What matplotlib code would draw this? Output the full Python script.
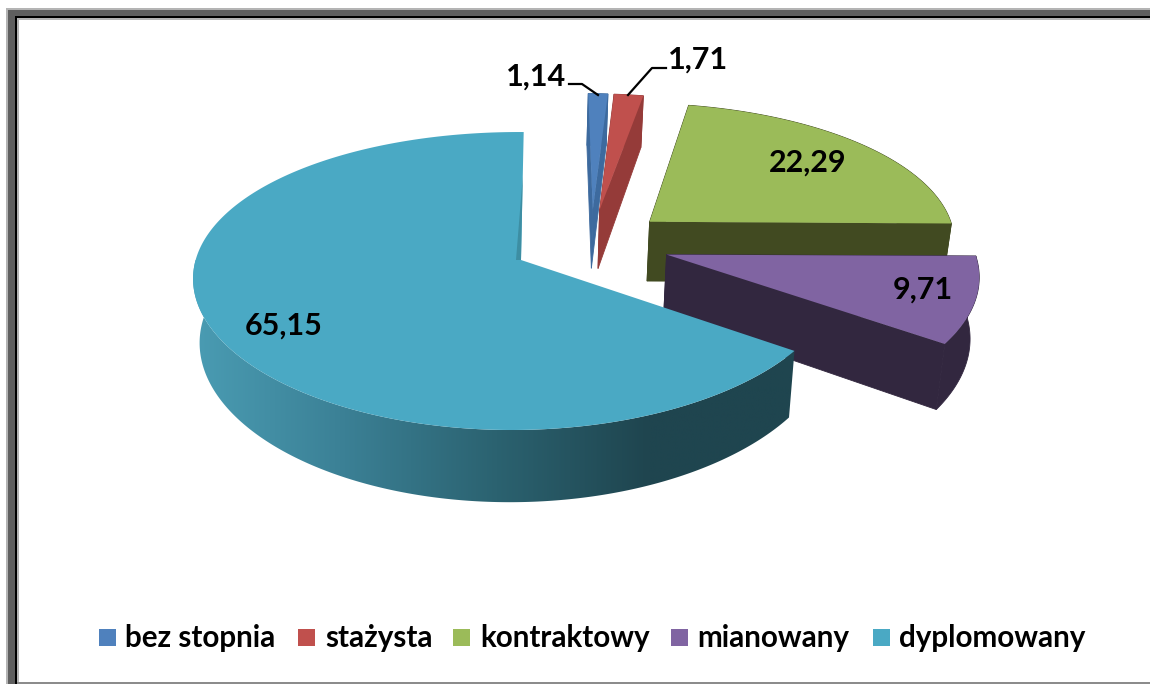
import numpy as np
import matplotlib
matplotlib.use('Agg')
import matplotlib.pyplot as plt
from matplotlib.patches import Polygon, Rectangle
from matplotlib.colors import LinearSegmentedColormap

plt.rcParams['font.family'] = ['Lato', 'DejaVu Sans']

categories = ['bez stopnia', 'stażysta', 'kontraktowy', 'mianowany', 'dyplomowany']
values = [1.14, 1.71, 22.29, 9.71, 65.15]
value_labels = ['1,14', '1,71', '22,29', '9,71', '65,15']

top_colors = ['#4F81BD', '#C0504D', '#9BBB59', '#8064A2', '#4AA9C4']
wall_colors = ['#3D6A9E', '#953B39', '#414A21', '#32273F', '#1F454F']

# camera of the fake 3d pie, pixels
ox, oy = 521, 260
rx, ry = 320, 146
shear = 3
k_yx, k_yy, k_x = 0.115, 0.141, 0.0165
depth = 62
explode = 0.25
label_pos = [(536, 77), (698, 60), (808, 163), (923, 290), (284, 326)]
legend_x = [99, 298, 453, 671, 873]
legend_text_x = [125, 325, 480, 697, 899]


def project(x, y, z=0.0):
    wx = 1 + k_yx*y + k_x*x
    wy = 1 + k_yy*y + k_x*x
    sx = (rx*x + shear*y)/wx * (1 - 0.02*z)
    sy = (-ry*y + z*depth)/wy
    return np.column_stack([ox + sx, oy + sy])


edges = np.radians(np.cumsum([0] + values)*3.6)
# the big slice apex is the origin, so the true centre is moved from it
big_mid = (edges[4] + edges[5])/2
cx, cy = -explode*np.sin(big_mid), -explode*np.cos(big_mid)

fig = plt.figure(figsize=(11.5, 6.84), dpi=100)
ax = fig.add_axes([0, 0, 1, 1])
ax.set_xlim(0, 1150)
ax.set_ylim(684, 0)
ax.axis('off')

# window frame
ax.add_patch(Rectangle((6, 8), 1144, 12, color='#B4B4B4', lw=0))
ax.add_patch(Rectangle((6, 8), 13, 676, color='#B4B4B4', lw=0))
ax.add_patch(Rectangle((8, 10), 1142, 6, color='#5F5F5F', lw=0))
ax.add_patch(Rectangle((8, 10), 7, 674, color='#5F5F5F', lw=0))
ax.add_patch(Rectangle((15, 16), 1135, 2, color='black', lw=0))
ax.add_patch(Rectangle((15, 16), 2, 668, color='black', lw=0))
ax.add_patch(Rectangle((17, 682), 1133, 2, color='#8C8C8C', lw=0))

wall_cmap = LinearSegmentedColormap.from_list('wall', ['#4A9CB3', '#3B8095', '#2B6270', '#1F454F', '#1F454F'])

for i in [2, 3, 0, 1, 4]:
    a0, a1 = edges[i], edges[i+1]
    mid = (a0 + a1)/2
    px, py = cx + explode*np.sin(mid), cy + explode*np.cos(mid)
    t = np.linspace(a0, a1, max(int(np.degrees(a1 - a0)), 2)*2)
    arc_x, arc_y = px + np.sin(t), py + np.cos(t)
    apex_top = project(np.array([px]), np.array([py]))
    apex_bot = project(np.array([px]), np.array([py]), 1.0)
    arc_top = project(arc_x, arc_y)
    arc_bot = project(arc_x, arc_y, 1.0)
    z = 1 + i*0.01

    wall_pts = np.vstack([arc_top, arc_bot[::-1]])
    if i == 4:
        patch = Polygon(wall_pts, closed=True, facecolor='none', lw=0, zorder=z)
        ax.add_patch(patch)
        im = ax.imshow(np.linspace(0, 1, 256).reshape(1, -1), cmap=wall_cmap, extent=[193, 800, 520, 260],
                       aspect='auto', zorder=z)
        im.set_clip_path(patch)
        ax.set_xlim(0, 1150)
        ax.set_ylim(684, 0)
    else:
        # thin edge of the same colour closes the seam between the wall pieces
        for j in [0, -1]:
            ax.add_patch(Polygon(np.vstack([apex_top, arc_top[j], arc_bot[j], apex_bot]), closed=True,
                                 facecolor=wall_colors[i], edgecolor=wall_colors[i], lw=0.6, zorder=z))
        ax.add_patch(Polygon(wall_pts, closed=True, facecolor=wall_colors[i], edgecolor=wall_colors[i],
                             lw=0.6, zorder=z))
    ax.add_patch(Polygon(np.vstack([apex_top, arc_top]), closed=True, color=top_colors[i], lw=0, zorder=z))

# sliver of the back wall of the big slice
apex = project(np.array([0.0]), np.array([0.0]))[0]
sliver_top = project(np.array([0.0]), np.array([0.62]))[0]
ax.add_patch(Polygon([sliver_top, apex, apex - [5, 0]], closed=True, color='#3D8EA3', lw=0, zorder=2))

# leader lines
ax.plot([569, 582, 598], [84, 84, 95], color='black', lw=1.6, zorder=3)
ax.plot([666, 652, 628], [68, 68, 95], color='black', lw=1.6, zorder=3)

for (lx, ly), txt in zip(label_pos, value_labels):
    ax.text(lx, ly, txt, ha='center', va='center', fontsize=22, fontweight='bold', color='black', zorder=4)

for i, name in enumerate(categories):
    ax.add_patch(Rectangle((legend_x[i], 629), 17, 17, color=top_colors[i], lw=0))
    ax.text(legend_text_x[i], 638, name, ha='left', va='center', fontsize=21.3, fontweight='bold', color='black')

fig.savefig('out.png', dpi=100)
